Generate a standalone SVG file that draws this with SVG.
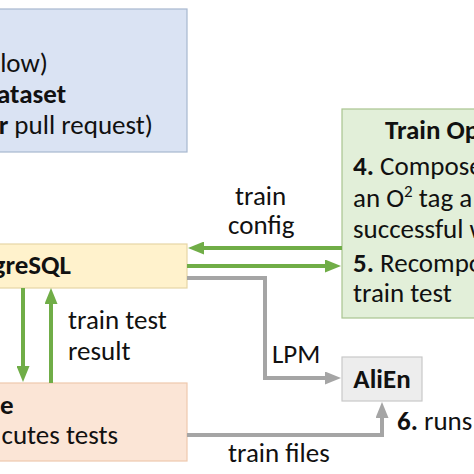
<svg xmlns="http://www.w3.org/2000/svg" width="474" height="474" viewBox="0 0 474 474">
<style>
text{font-family:Carlito,Lato,"Liberation Sans",sans-serif;font-size:27px;fill:#111}
.b{font-weight:bold}
.g{fill:none;stroke:#70ad47;stroke-width:4}
.y{fill:none;stroke:#a5a5a5;stroke-width:4}
</style>
<defs>
<marker id="ag" viewBox="0 0 16 13" markerWidth="16" markerHeight="13" refX="3" refY="6.5" orient="auto" markerUnits="userSpaceOnUse"><path d="M0,0 L16,6.5 L0,13 z" fill="#70ad47"/></marker>
<marker id="ay" viewBox="0 0 16 13" markerWidth="16" markerHeight="13" refX="3" refY="6.5" orient="auto" markerUnits="userSpaceOnUse"><path d="M0,0 L16,6.5 L0,13 z" fill="#a5a5a5"/></marker>
</defs>
<rect width="474" height="474" fill="#fff"/>
<g id="workflow">
<rect x="-10" y="9" width="197" height="143" fill="#dae3f3" stroke="#a7b7cf" stroke-width="1.2"/>
<text x="48" y="72" text-anchor="end">low)</text>
<text x="66" y="103" text-anchor="end" class="b">ataset</text>
<text x="153" y="134" text-anchor="end"><tspan class="b">r</tspan> pull request)</text>
</g>
<g id="trainop">
<rect x="342" y="109" width="140" height="209" fill="#e2efd9" stroke="#a9c48f" stroke-width="1.2"/>
<text x="385" y="139" class="b">Train Op</text>
<text x="353" y="175"><tspan class="b">4.</tspan> Compose</text>
<text x="353" y="207">an O<tspan font-size="17" dy="-10">2</tspan><tspan dy="10"> tag a</tspan></text>
<text x="353" y="238">successful w</text>
<text x="353" y="272"><tspan class="b">5.</tspan> Recompo</text>
<text x="353" y="302">train test</text>
</g>
<g id="postgresql">
<rect x="-10" y="244" width="197" height="44" fill="#fff2cc" stroke="#e6d6a6" stroke-width="1.2"/>
<text x="71" y="274" text-anchor="end" class="b">greSQL</text>
</g>
<g id="machine">
<rect x="-10" y="383" width="197" height="78" fill="#fbe5d6" stroke="#efc9ad" stroke-width="1.2"/>
<text x="0" y="414" class="b">e</text>
<text x="118" y="444" text-anchor="end">cutes tests</text>
</g>
<g id="alien">
<rect x="342" y="357" width="80" height="44" fill="#ededed" stroke="#c9c9c9" stroke-width="1.2"/>
<text x="382" y="388" text-anchor="middle" class="b">AliEn</text>
</g>
<g id="connectors">
<line x1="342" y1="248" x2="201" y2="248" class="g" marker-end="url(#ag)"/>
<line x1="187" y1="266" x2="328" y2="266" class="g" marker-end="url(#ag)"/>
<line x1="23" y1="288" x2="23" y2="369" class="g" marker-end="url(#ag)"/>
<line x1="51" y1="383" x2="51" y2="301" class="g" marker-end="url(#ag)"/>
<path d="M187,278 H265 V378 H328" class="y" marker-end="url(#ay)"/>
<path d="M187,435 H382 V415" class="y" marker-end="url(#ay)"/>
<text x="235" y="205">train</text>
<text x="228" y="234">config</text>
<text x="68" y="329">train test</text>
<text x="68" y="360">result</text>
<text x="272" y="363">LPM</text>
<text x="228" y="462">train files</text>
<text x="397" y="430"><tspan class="b">6.</tspan> runs</text>
</g>
</svg>
